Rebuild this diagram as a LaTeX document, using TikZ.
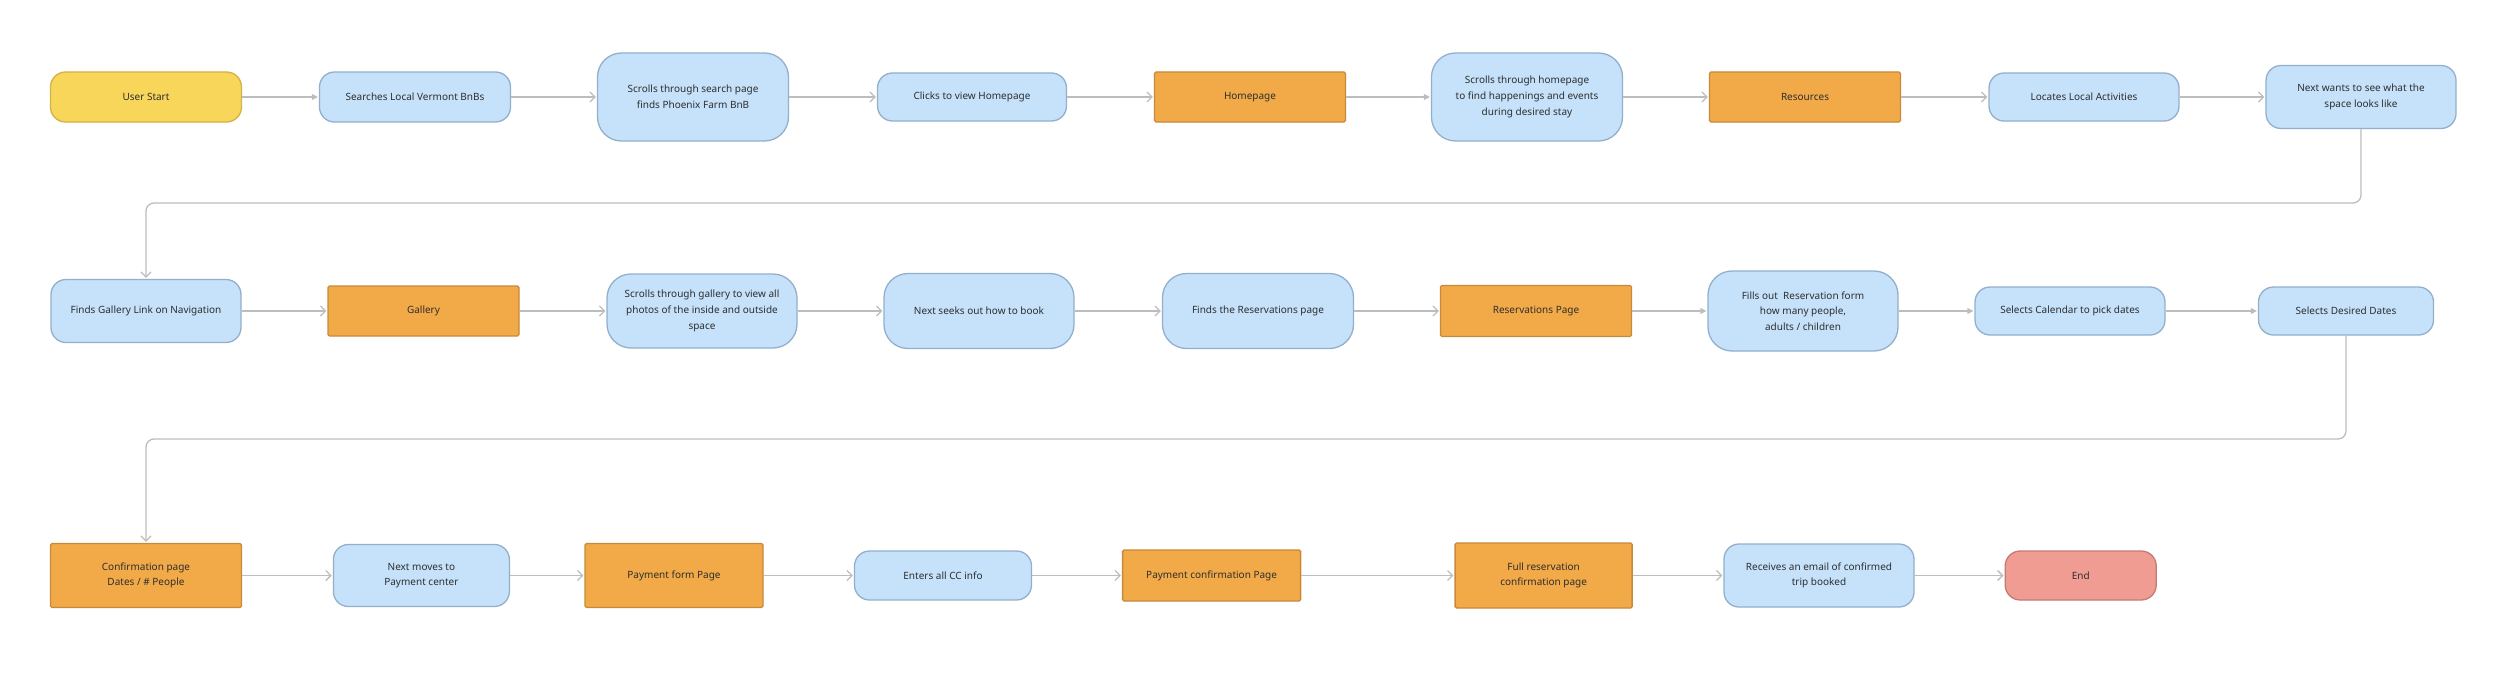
\documentclass[tikz,border=0pt]{standalone}
\usepackage{fontspec}
\setmainfont{Noto Sans}
\usetikzlibrary{arrows.meta}
\definecolor{ink}{HTML}{2E2E2E}
\definecolor{wire}{HTML}{BDBDBD}
\definecolor{startfill}{HTML}{F8D65A}
\definecolor{startline}{HTML}{D2B24A}
\definecolor{bluefill}{HTML}{C5E2FA}
\definecolor{blueline}{HTML}{93AFCB}
\definecolor{pagefill}{HTML}{F2AA48}
\definecolor{pageline}{HTML}{C68A3A}
\definecolor{endfill}{HTML}{F19C93}
\definecolor{endline}{HTML}{C27B74}
\tikzset{
  box/.style={draw, line width=1.3pt, align=center, text=ink, inner xsep=2pt,
    font=\fontsize{10}{15.7}\selectfont},
  startbox/.style={box, fill=startfill, draw=startline, rounded corners=15pt},
  bluebox/.style={box, fill=bluefill, draw=blueline, rounded corners=15pt},
  tallbox/.style={bluebox, rounded corners=24pt},
  pagebox/.style={box, fill=pagefill, draw=pageline, rounded corners=1.5pt},
  endbox/.style={box, fill=endfill, draw=endline, rounded corners=15pt},
  flow/.style={draw=wire, line width=1.3pt, shorten >=1pt,
    -{Straight Barb[length=5pt,width=10pt]}},
  flowf/.style={draw=wire, line width=1.3pt, shorten >=1pt,
    -{Triangle[length=6pt,width=6pt]}},
}
\begin{document}
\begin{tikzpicture}[x=1pt,y=-1pt]
\useasboundingbox (0,0) rectangle (2500,685);
% first row
\foreach \n/\x/\w/\h/\s/\t in {S1/146/191/50/startbox/{User Start},
  S2/415/191/50/bluebox/{Searches Local Vermont BnBs},
  S3/693/191/88/tallbox/{Scrolls through search page\\finds Phoenix Farm BnB},
  S4/972/189/48/bluebox/{Clicks to view Homepage},
  S5/1250/191/50/pagebox/{Homepage},
  S6/1527/191/88/tallbox/{Scrolls through homepage\\to find happenings and events\\during desired stay},
  S7/1805/191/50/pagebox/{Resources},
  S8/2084/190/48/bluebox/{Locates Local Activities},
  S9/2361/190/63/bluebox/{Next wants to see what the\\space looks like}} {
  \node[\s, minimum width=\w, minimum height=\h] (\n) at (\x,97) {\t};
}
% second row
\foreach \n/\x/\w/\h/\s/\t in {G1/146/190/63/bluebox/{Finds Gallery Link on Navigation},
  G2/423.5/191/50/pagebox/{Gallery},
  G3/702/190/74/tallbox/{Scrolls through gallery to view all\\photos of the inside and outside\\space},
  G4/979/190/75/tallbox/{Next seeks out how to book},
  G5/1258/191/75/tallbox/{Finds the Reservations page},
  G6/1536/191/51/pagebox/{Reservations Page},
  G7/1803/190/80/tallbox/{Fills out~ Reservation form\\how many people,\\adults / children},
  G8/2070/190/48/bluebox/{Selects Calendar to pick dates},
  G9/2346/175/48/bluebox/{Selects Desired Dates}} {
  \node[\s, minimum width=\w, minimum height=\h] (\n) at (\x,311) {\t};
}
% third row
\foreach \n/\x/\w/\h/\s/\t in {P1/146/191/64/pagebox/{Confirmation page\\Dates / \# People},
  P2/421.4/176/62/bluebox/{Next moves to\\Payment center},
  P3/674/178/64/pagebox/{Payment form Page},
  P4/943/177/49/bluebox/{Enters all CC info},
  P5/1211.6/178/51/pagebox/{Payment confirmation Page},
  P6/1543.6/177/65/pagebox/{Full reservation\\confirmation page},
  P7/1819/190/63/bluebox/{Receives an email of confirmed\\trip booked},
  P8/2080.7/151/49/endbox/{End}} {
  \node[\s, minimum width=\w, minimum height=\h] (\n) at (\x,575.5) {\t};
}
\foreach \a/\b in {S2/S3,S3/S4,S4/S5,S6/S7,S7/S8,S8/S9,G1/G2,G2/G3,G3/G4,G4/G5,G5/G6,
  P1/P2,P2/P3,P3/P4,P4/P5,P5/P6,P6/P7,P7/P8} {
  \draw[flow] (\a) -- (\b);
}
\foreach \a/\b in {S1/S2,S5/S6,G6/G7,G7/G8,G8/G9} {
  \draw[flowf] (\a) -- (\b);
}
% row returns
\coordinate (turn1) at (0,203);
\coordinate (turn2) at (0,439);
\draw[flow, rounded corners=8pt] (S9.south) -- (S9.south |- turn1) -- (turn1 -| G1) -- (G1.north);
\draw[flow, rounded corners=8pt] (G9.south) -- (G9.south |- turn2) -- (turn2 -| P1) -- (P1.north);
\end{tikzpicture}
\end{document}
